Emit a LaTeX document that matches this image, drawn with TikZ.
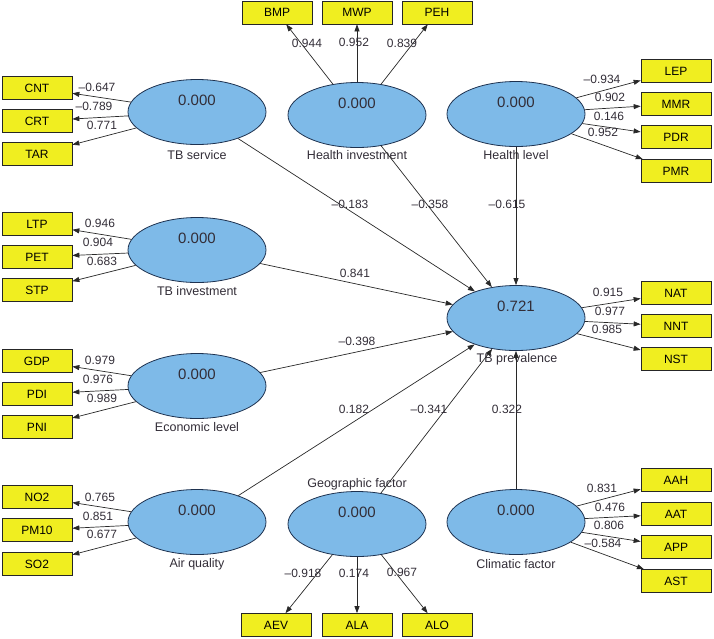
\documentclass[tikz,border=0pt]{standalone}
\usepackage{fontspec}
\setmainfont{Liberation Sans}
\usetikzlibrary{shapes.geometric,arrows.meta}
\definecolor{lvblue}{RGB}{126,186,232}
\definecolor{ellcol}{RGB}{30,50,80}
\definecolor{mvyellow}{RGB}{240,238,32}
\definecolor{edgecol}{RGB}{40,40,40}
\definecolor{txtcol}{RGB}{50,45,55}
\begin{document}
\begin{tikzpicture}[x=1pt,y=-1pt,
 latent/.style={ellipse,draw=ellcol,line width=0.8pt,fill=lvblue,minimum width=138pt,minimum height=65pt,inner sep=0pt},
 ind/.style={draw=black!85,line width=0.7pt,fill=mvyellow,minimum width=70pt,minimum height=23pt,inner sep=0pt,font=\fontsize{12}{14}\selectfont},
 val/.style={font=\fontsize{15}{17}\selectfont,text=txtcol,inner sep=0pt},
 lvname/.style={font=\fontsize{12.5}{14}\selectfont,text=txtcol,inner sep=0pt},
 coef/.style={font=\fontsize{12}{14}\selectfont,text=txtcol,inner sep=0pt},
 arr/.style={draw=edgecol,line width=0.7pt,-{Triangle[length=7pt,width=5pt]}}]
\useasboundingbox (0,0) rectangle (714,638);

% latent variables
\node[latent] (tbs) at (197,112) {};
\node[latent] (hinv) at (357,115) {};
\node[latent] (hlev) at (516,114) {};
\node[latent] (tbi) at (197,250) {};
\node[latent] (tbp) at (516,318) {};
\node[latent] (eco) at (197,386) {};
\node[latent] (air) at (197,522) {};
\node[latent] (geo) at (357,524) {};
\node[latent] (cli) at (516,522) {};

% values
\node[val] (vtbs) at (197,100) {0.000};
\node[val] (vhinv) at (357,103) {0.000};
\node[val] (vhlev) at (516,102) {0.000};
\node[val] (vtbi) at (197,238) {0.000};
\node[val] (vtbp) at (516,306) {0.721};
\node[val] (veco) at (197,374) {0.000};
\node[val] (vair) at (197,510) {0.000};
\node[val] (vgeo) at (357,512) {0.000};
\node[val] (vcli) at (516,510) {0.000};

% names
\node[lvname] (ntbs) at (197,155) {TB service};
\node[lvname] (nhinv) at (357,155) {Health investment};
\node[lvname] (nhlev) at (516,155) {Health level};
\node[lvname] (ntbi) at (197,291) {TB investment};
\node[lvname] (ntbp) at (517,359) {TB prevalence};
\node[lvname] (neco) at (197,427) {Economic level};
\node[lvname] (nair) at (197,564) {Air quality};
\node[lvname] (ngeo) at (357,484) {Geographic factor};
\node[lvname] (ncli) at (516,564) {Climatic factor};

% indicators left
\node[ind] (cnt) at (37,88) {CNT};
\node[ind] (crt) at (37,121) {CRT};
\node[ind] (tar) at (37,154) {TAR};
\node[ind] (ltp) at (37,224) {LTP};
\node[ind] (pet) at (37,257) {PET};
\node[ind] (stp) at (37,290) {STP};
\node[ind] (gdp) at (37,361) {GDP};
\node[ind] (pdi) at (37,394) {PDI};
\node[ind] (pni) at (37,427) {PNI};
\node[ind] (no2) at (37,497) {NO2};
\node[ind] (pm10) at (37,530) {PM10};
\node[ind] (so2) at (37,564) {SO2};
% top
\node[ind] (bmp) at (277,12.5) {BMP};
\node[ind] (mwp) at (357,12.5) {MWP};
\node[ind] (peh) at (437,12.5) {PEH};
% right
\node[ind] (lep) at (676,71) {LEP};
\node[ind] (mmr) at (676,104) {MMR};
\node[ind] (pdr) at (676,137) {PDR};
\node[ind] (pmr) at (676,171) {PMR};
\node[ind] (nat) at (676,293) {NAT};
\node[ind] (nnt) at (676,326) {NNT};
\node[ind] (nst) at (676,359) {NST};
\node[ind] (aah) at (676,480) {AAH};
\node[ind] (aat) at (676,514) {AAT};
\node[ind] (app) at (676,547) {APP};
\node[ind] (ast) at (676,581) {AST};
% bottom
\node[ind] (aev) at (276,625) {AEV};
\node[ind] (ala) at (357,625) {ALA};
\node[ind] (alo) at (437,625) {ALO};

% outer arrows
\draw[arr] (tbs) -- (cnt);
\draw[arr] (tbs) -- (crt);
\draw[arr] (tbs) -- (tar);
\draw[arr] (tbi) -- (ltp);
\draw[arr] (tbi) -- (pet);
\draw[arr] (tbi) -- (stp);
\draw[arr] (eco) -- (gdp);
\draw[arr] (eco) -- (pdi);
\draw[arr] (eco) -- (pni);
\draw[arr] (air) -- (no2);
\draw[arr] (air) -- (pm10);
\draw[arr] (air) -- (so2);
\draw[arr] (hinv) -- (bmp);
\draw[arr] (hinv) -- (mwp);
\draw[arr] (hinv) -- (peh);
\draw[arr] (hlev) -- (lep);
\draw[arr] (hlev) -- (mmr);
\draw[arr] (hlev) -- (pdr);
\draw[arr] (hlev) -- (pmr);
\draw[arr] (tbp) -- (nat);
\draw[arr] (tbp) -- (nnt);
\draw[arr] (tbp) -- (nst);
\draw[arr] (cli) -- (aah);
\draw[arr] (cli) -- (aat);
\draw[arr] (cli) -- (app);
\draw[arr] (cli) -- (ast);
\draw[arr] (geo) -- (aev);
\draw[arr] (geo) -- (ala);
\draw[arr] (geo) -- (alo);

% inner arrows
\draw[arr] (tbs) -- (tbp);
\draw[arr] (hinv) -- (tbp);
\draw[arr] (hlev) -- (tbp);
\draw[arr] (tbi) -- (tbp);
\draw[arr] (eco) -- (tbp);
\draw[arr] (air) -- (tbp);
\draw[arr] (geo) -- (tbp);
\draw[arr] (cli) -- (tbp);

% outer loadings
\node[coef] (c1) at (97,87) {–0.647};
\node[coef] (c2) at (94,106) {–0.789};
\node[coef] (c3) at (102,125) {0.771};
\node[coef] (c4) at (100,223) {0.946};
\node[coef] (c5) at (98,242) {0.904};
\node[coef] (c6) at (102,261) {0.683};
\node[coef] (c7) at (100,360) {0.979};
\node[coef] (c8) at (98,379) {0.976};
\node[coef] (c9) at (102,398) {0.989};
\node[coef] (c10) at (100,497) {0.765};
\node[coef] (c11) at (98,516) {0.851};
\node[coef] (c12) at (102,534) {0.677};
\node[coef] (c13) at (307,43) {0.944};
\node[coef] (c14) at (354,42) {0.952};
\node[coef] (c15) at (402,43) {0.839};
\node[coef] (c16) at (602,79) {–0.934};
\node[coef] (c17) at (610,97) {0.902};
\node[coef] (c18) at (609,116) {0.146};
\node[coef] (c19) at (603,132) {0.952};
\node[coef] (c20) at (608,292) {0.915};
\node[coef] (c21) at (610,311) {0.977};
\node[coef] (c22) at (607,329) {0.985};
\node[coef] (c23) at (602,488) {0.831};
\node[coef] (c24) at (610,507) {0.476};
\node[coef] (c25) at (609,525) {0.806};
\node[coef] (c26) at (603,543) {–0.584};
\node[coef] (c27) at (303,573) {–0.918};
\node[coef] (c28) at (354,573) {0.174};
\node[coef] (c29) at (402,572) {0.967};

% path coefficients
\node[coef] (p1) at (350,204) {–0.183};
\node[coef] (p2) at (430,204) {–0.358};
\node[coef] (p3) at (507,204) {–0.615};
\node[coef] (p4) at (355,273) {0.841};
\node[coef] (p5) at (357,341) {–0.398};
\node[coef] (p6) at (354,409) {0.182};
\node[coef] (p7) at (429,409) {–0.341};
\node[coef] (p8) at (507,409) {0.322};
\end{tikzpicture}
\end{document}
